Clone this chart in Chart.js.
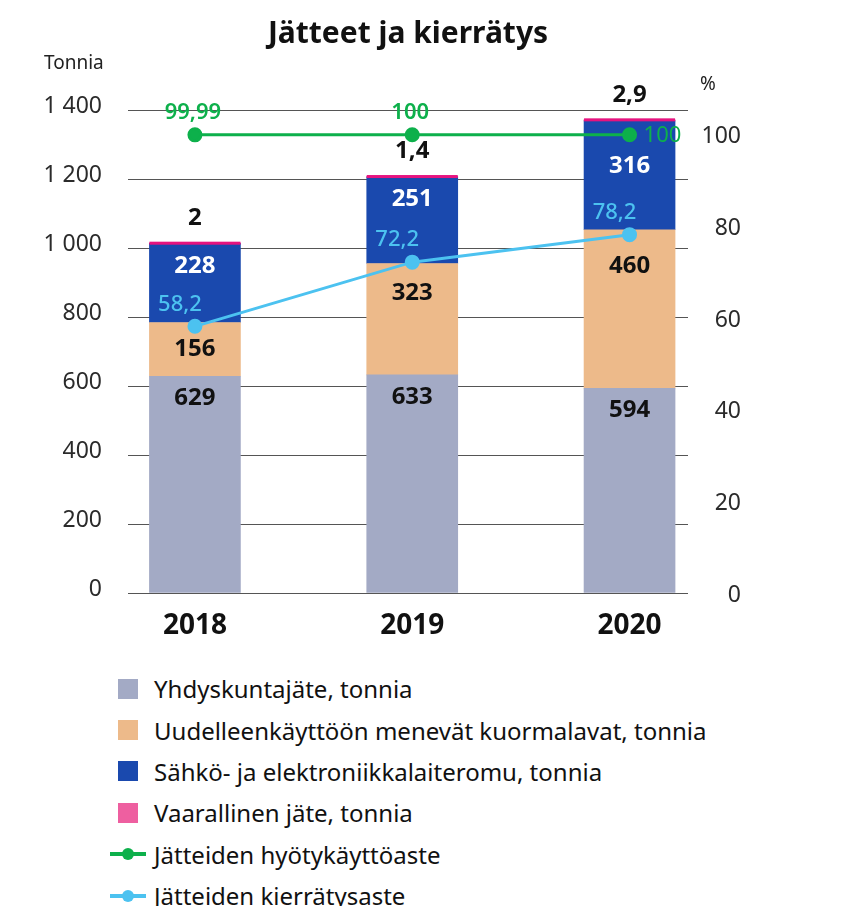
<!DOCTYPE html>
<html lang="fi">
<head>
  <meta charset="UTF-8">
  <title>Jätteet ja kierrätys</title>
  <script src="https://cdn.jsdelivr.net/npm/chart.js"></script>
  <style>
    body { margin: 0; background: #fff; font-family: "Noto Sans", sans-serif; }
    .wrap { position: relative; width: 868px; height: 906px; overflow: hidden; }
    #chart { position: absolute; left: 0; top: 0; }
    h1 { position: absolute; left: 208px; width: 400px; top: 11px; margin: 0; text-align: center;
         font-size: 30px; line-height: 42px; font-weight: bold; color: #111; }
    .legend { position: absolute; left: 108px; top: 668px; }
    .legend-item { display: flex; align-items: center; height: 41.4px; font-size: 24px; color: #111; white-space: nowrap; }
    .mark { position: relative; width: 46px; height: 20px; flex: none; }
    .mark .box { position: absolute; left: 10px; top: 0; width: 20px; height: 20px; }
    .mark .line { position: absolute; left: 2px; top: 8px; width: 36px; height: 4px; }
    .mark .dot { position: absolute; left: 14px; top: 4px; width: 12px; height: 12px; border-radius: 50%; }
  </style>
</head>
<body>
  <div class="wrap">
    <canvas id="chart" width="868" height="650"></canvas>
    <h1>Jätteet ja kierrätys</h1>
    <div class="legend" id="legend"></div>
  </div>

  <script>
    const years = ['2018', '2019', '2020'];
    const municipal = [629, 633, 594];
    const pallets = [156, 323, 460];
    const electronic = [228, 251, 316];
    const hazardous = [2, 1.4, 2.9];
    const utilisation = [99.99, 100, 100];
    const recycling = [58.2, 72.2, 78.2];
    const tonTicks = [0, 200, 400, 600, 800, 1000, 1200, 1400];
    const pctTicks = [0, 20, 40, 60, 80, 100];

    const FONT = '"Noto Sans", sans-serif';
    const points = arr => arr.map((v, i) => ({ x: i, y: v }));
    const fmt = v => String(v).replace('.', ',').replace(/\B(?=(\d{3})+(?!\d))/g, ' ');

    function bar(label, data, color, textColor) {
      return {
        type: 'bar', label, data: points(data), backgroundColor: color,
        yAxisID: 'y', stack: 'tons', barThickness: 91, textColor
      };
    }
    function line(label, data, color, place, dx, weight) {
      return {
        type: 'line', label, data: points(data), yAxisID: 'y1', order: -1,
        borderColor: color, backgroundColor: color, borderWidth: 3,
        pointRadius: 6, pointHoverRadius: 6, place, dx, weight
      };
    }

    const datasets = [
      bar('Yhdyskuntajäte, tonnia', municipal, '#A3AAC5', '#111'),
      bar('Uudelleenkäyttöön menevät kuormalavat, tonnia', pallets, '#EDBA8A', '#111'),
      bar('Sähkö- ja elektroniikkalaiteromu, tonnia', electronic, '#1A49AE', '#fff'),
      Object.assign(bar('Vaarallinen jäte, tonnia', hazardous, '#E6137F', '#111'), { onTop: true, legendColor: '#EE5FA0' }),
      line('Jätteiden hyötykäyttöaste', utilisation, '#0DB04B', ['above', 'above', 'right'], -2, '600'),
      line('Jätteiden kierrätysaste', recycling, '#4CC2F0', ['above', 'above', 'above'], -15, '500')
    ];

    // value labels, thin hazardous strip, axis unit texts
    const labelsPlugin = {
      id: 'labels',
      afterDatasetsDraw(chart) {
        const ctx = chart.ctx;
        const lines = chart.data.datasets.map((d, i) => ({ d, m: chart.getDatasetMeta(i) })).filter(o => o.d.type === 'line');
        ctx.save();
        ctx.textAlign = 'center';
        ctx.textBaseline = 'middle';
        chart.data.datasets.forEach((ds, i) => {
          if (ds.type !== 'bar') return;
          chart.getDatasetMeta(i).data.forEach((el, j) => {
            const value = ds.data[j].y;
            if (ds.onTop) {
              ctx.fillStyle = ds.backgroundColor;
              ctx.fillRect(el.x - el.width / 2, el.y - 1.5, el.width, 3);
              ctx.fillStyle = '#111';
              ctx.font = 'bold 24px ' + FONT;
              ctx.fillText(fmt(value), el.x, el.y - 25);
              return;
            }
            let y = el.y + 22;
            lines.forEach(o => {
              const p = o.m.data[j];
              if (p.y > el.y - 5 && p.y < el.y + 30) y = p.y + 31;
            });
            y = Math.min(y, (el.y + el.base) / 2);
            ctx.fillStyle = ds.textColor;
            ctx.font = 'bold 24px ' + FONT;
            ctx.fillText(fmt(value), el.x, y);
          });
        });
        lines.forEach(o => {
          ctx.fillStyle = o.d.borderColor;
          o.m.data.forEach((p, j) => {
            const text = fmt(o.d.data[j].y);
            if (o.d.place[j] === 'right') {
              ctx.font = '22px ' + FONT;
              ctx.textAlign = 'left';
              ctx.fillText(text, p.x + 14, p.y + 1);
            } else {
              ctx.font = o.d.weight + ' 22px ' + FONT;
              ctx.textAlign = 'center';
              ctx.fillText(text, p.x + o.d.dx, p.y - 22);
            }
          });
        });
        ctx.fillStyle = '#222';
        ctx.font = '19px ' + FONT;
        ctx.textAlign = 'left';
        ctx.fillText('Tonnia', 44, 64);
        ctx.fillText('%', 700, 85);
        ctx.restore();
      }
    };

    const chart = new Chart(document.getElementById('chart'), {
      type: 'bar',
      data: { datasets },
      options: {
        responsive: false,
        animation: false,
        layout: { padding: { left: 0, right: 127, top: 110.5, bottom: 0 } },
        plugins: {
          legend: { display: false },
          tooltip: { enabled: false },
          title: { display: false }
        },
        scales: {
          x: {
            type: 'linear', min: -0.308, max: 2.269, offset: false, stacked: true,
            grid: { display: false, drawTicks: false },
            border: { display: false },
            afterBuildTicks: s => { s.ticks = years.map((_, i) => ({ value: i })); },
            afterFit: s => { s.height = 57; },
            ticks: {
              callback: v => years[v], color: '#111', padding: 16,
              font: { family: FONT, size: 28, weight: 'bold' }, maxRotation: 0, autoSkip: false
            }
          },
          y: {
            position: 'left', min: 0, max: 1400, stacked: true,
            afterBuildTicks: s => { s.ticks = tonTicks.map(v => ({ value: v })); },
            afterFit: s => { s.width = 128; },
            grid: { color: '#555', drawTicks: false },
            border: { display: false },
            ticks: { padding: 26, color: '#2b2b2b', labelOffset: -4, font: { family: FONT, size: 23 }, callback: fmt }
          },
          y1: {
            position: 'right', min: 0, max: 105.3,
            afterBuildTicks: s => { s.ticks = pctTicks.map(v => ({ value: v })); },
            afterFit: s => { s.width = 53; },
            grid: { display: false, drawTicks: false },
            border: { display: false },
            ticks: { crossAlign: 'far', padding: 0, labelOffset: 2, color: '#2b2b2b', font: { family: FONT, size: 23 } }
          }
        }
      },
      plugins: [labelsPlugin]
    });

    // legend, one item per row
    const legend = document.getElementById('legend');
    chart.data.datasets.forEach(ds => {
      const item = document.createElement('div');
      item.className = 'legend-item';
      const mark = document.createElement('span');
      mark.className = 'mark';
      if (ds.type === 'bar') {
        mark.innerHTML = '<span class="box" style="background:' + (ds.legendColor || ds.backgroundColor) + '"></span>';
      } else {
        mark.innerHTML = '<span class="line" style="background:' + ds.borderColor + '"></span>' +
          '<span class="dot" style="background:' + ds.borderColor + '"></span>';
      }
      item.appendChild(mark);
      item.appendChild(document.createTextNode(ds.label));
      legend.appendChild(item);
    });
  </script>
</body>
</html>
